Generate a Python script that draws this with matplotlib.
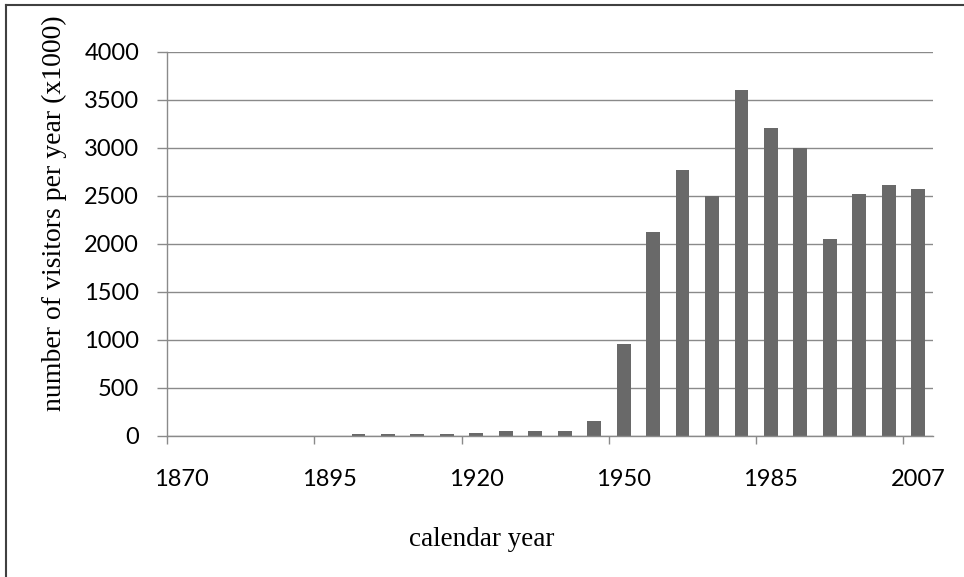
import numpy as np
import matplotlib.pyplot as plt
from matplotlib.lines import Line2D

# categories (calendar years) - only every 5th is labelled in the chart
years = [1870, 1875, 1880, 1885, 1890, 1895, 1900, 1905, 1910, 1915,
         1920, 1925, 1930, 1935, 1946, 1950, 1955, 1965, 1970, 1980,
         1985, 1990, 1995, 2000, 2005, 2007]
# visitors per year (x1000)
visitors = [0, 0, 0, 0, 0, 0, 21, 21, 21, 21,
            31, 52, 52, 52, 156, 960, 2120, 2770, 2500, 3600,
            3210, 3000, 2050, 2520, 2610, 2570]
label_every = 5
y_ticks = list(range(0, 4001, 500))

grid_color = '#8a8a8a'
bar_color = '#696969'

fig = plt.figure(figsize=(9.64, 5.77), dpi=100)
ax = fig.add_axes([0.1732, 0.2444, 0.7946, 0.666])

x = np.arange(len(years))
ax.bar(x, visitors, width=0.47, color=bar_color, zorder=3)

ax.set_xlim(-0.5, len(years) - 0.5)
ax.set_ylim(0, 4000)
ax.set_yticks(y_ticks)
ax.set_yticklabels([str(v) for v in y_ticks])

# labels sit on category centres, tick marks on category edges
ax.set_xticks(x[::label_every])
ax.set_xticklabels([str(years[i]) for i in x[::label_every]])
ax.set_xticks(np.arange(-0.5, len(years) - 0.5, label_every), minor=True)
ax.tick_params(axis='x', which='major', length=0, pad=24)
ax.tick_params(axis='x', which='minor', length=6, width=1, color=grid_color)
ax.tick_params(axis='y', length=7, width=1, color=grid_color, pad=13)

for lab in ax.get_xticklabels() + ax.get_yticklabels():
    lab.set_fontfamily('Lato')
    lab.set_fontsize(17)

ax.yaxis.grid(True, color=grid_color, linewidth=1, zorder=0)
ax.set_axisbelow(True)
for side in ['top', 'right']:
    ax.spines[side].set_visible(False)
for side in ['left', 'bottom']:
    ax.spines[side].set_color(grid_color)
    ax.spines[side].set_linewidth(1)
    ax.spines[side].set_zorder(4)

fig.text(54 / 964, 1 - 213 / 577, 'number of visitors per year (x1000)',
         rotation=90, ha='center', va='center',
         family='Liberation Serif', size=20)
fig.text(0.5, 1 - 540 / 577, 'calendar year', ha='center', va='center',
         family='Liberation Serif', size=19.5)

# chart frame (only top and left edges are visible in the original)
fig.add_artist(Line2D([6 / 964, 1], [1 - 5 / 577, 1 - 5 / 577],
                      color='#404040', linewidth=1.5, transform=fig.transFigure))
fig.add_artist(Line2D([6 / 964, 6 / 964], [0, 1 - 5 / 577],
                      color='#404040', linewidth=1.5, transform=fig.transFigure))

fig.savefig('out.png', dpi=100)
